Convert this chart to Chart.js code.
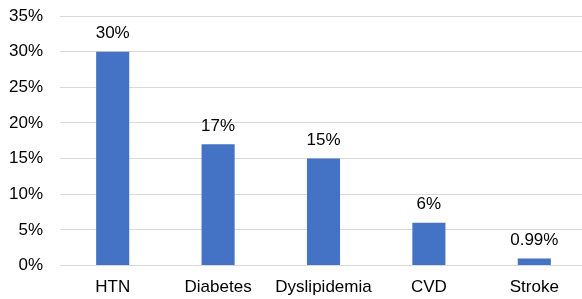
<!DOCTYPE html>
<html>
<head>
<meta charset="utf-8">
<script src="https://cdn.jsdelivr.net/npm/chart.js@4/dist/chart.umd.min.js"></script>
<style>
html,body{margin:0;padding:0;overflow:hidden;background:#fff;}
#wrap{width:587px;height:299px;}
</style>
</head>
<body>
<div id="wrap"><canvas id="c" width="587" height="299"></canvas></div>
<script>
const categories = ["HTN", "Diabetes", "Dyslipidemia", "CVD", "Stroke"];
const values = [30, 17, 15, 6, 0.99];
const valueLabels = ["30%", "17%", "15%", "6%", "0.99%"];
const yTicks = [0, 5, 10, 15, 20, 25, 30, 35];

const FONT = "'Liberation Sans', Arial, sans-serif";

const dataLabelPlugin = {
  id: 'dataLabels',
  afterDatasetsDraw(chart) {
    const ctx = chart.ctx;
    const meta = chart.getDatasetMeta(0);
    ctx.save();
    ctx.font = "17px " + FONT;
    ctx.fillStyle = "#000000";
    ctx.textAlign = "center";
    ctx.textBaseline = "middle";
    meta.data.forEach((bar, i) => {
      ctx.fillText(valueLabels[i], bar.x, bar.y - 18);
    });
    ctx.restore();
  }
};

new Chart(document.getElementById('c'), {
  type: 'bar',
  data: {
    labels: categories,
    datasets: [{
      data: values,
      backgroundColor: '#4472C4',
      borderWidth: 0,
      barPercentage: 1,
      categoryPercentage: 0.314
    }]
  },
  options: {
    responsive: false,
    animation: false,
    devicePixelRatio: 1,
    layout: { padding: { top: 16, right: 0, bottom: 0, left: 0 } },
    plugins: { legend: { display: false }, tooltip: { enabled: false } },
    scales: {
      x: {
        grid: { display: false, drawTicks: false },
        border: { display: false },
        ticks: { color: '#000', font: { family: FONT, size: 17 }, padding: 12, maxRotation: 0, autoSkip: false },
        afterFit(s) { s.height = 33.5; s.paddingLeft = 0; s.paddingRight = 0; }
      },
      y: {
        min: 0, max: 35,
        afterBuildTicks(s) { s.ticks = yTicks.map(v => ({ value: v })); },
        grid: { color: '#d9d9d9', lineWidth: 1, drawTicks: false },
        border: { display: false },
        ticks: { color: '#000', font: { family: FONT, size: 17 }, padding: 17, callback: v => v + '%' },
        afterFit(s) { s.width = 60; s.paddingTop = 0; s.paddingBottom = 0; }
      }
    }
  },
  plugins: [dataLabelPlugin]
});
</script>
</body>
</html>
